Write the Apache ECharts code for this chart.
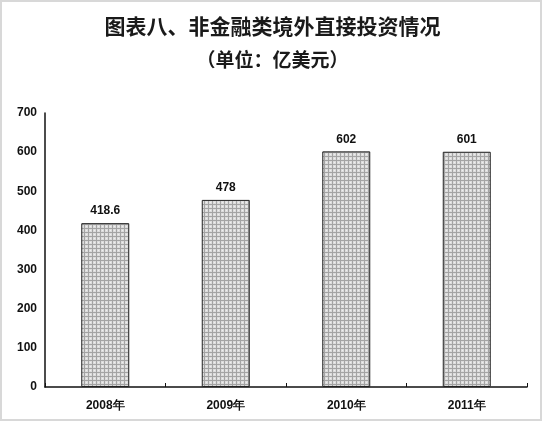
<!DOCTYPE html>
<html>
<head>
<meta charset="utf-8">
<script src="https://cdn.jsdelivr.net/npm/echarts@6/dist/echarts.min.js"></script>
<style>
  html, body { margin: 0; padding: 0; background: #ffffff; }
  #chart { width: 545px; height: 426px; }
</style>
</head>
<body>
<div id="chart"></div>
<script>
// Non-financial outward direct investment, unit: 100 million USD
const titleText = '图表八、非金融类境外直接投资情况';
const subtitleText = '（单位：亿美元）';
const categories = ['2008年', '2009年', '2010年', '2011年'];
const investment = [418.6, 478, 602, 601];
const yTicks = [0, 100, 200, 300, 400, 500, 600, 700];

// Cross-hatched grey fill for the bars
function hatchPattern() {
  const c = document.createElement('canvas');
  c.width = 4; c.height = 4;
  const g = c.getContext('2d');
  g.fillStyle = '#dcdcdc';
  g.fillRect(0, 0, 4, 4);
  g.fillStyle = '#a4a4a4';
  g.fillRect(0, 0, 4, 1);
  g.fillRect(0, 0, 1, 4);
  g.fillStyle = '#efefef';
  g.fillRect(2, 2, 1, 1);
  return c;
}

const chart = echarts.init(document.getElementById('chart'), null, { renderer: 'canvas' });
const labelFont = { fontFamily: 'Liberation Sans, Arial, sans-serif', fontWeight: 'bold', fontSize: 12, color: '#111' };

chart.setOption({
  backgroundColor: '#ffffff',
  animation: false,
  title: [
    { text: titleText, left: 'center', top: 11,
      textStyle: { fontFamily: 'Noto Sans CJK SC', fontWeight: 'bold', fontSize: 21, color: '#1a1a1a' } },
    { text: subtitleText, left: 'center', top: 45,
      textStyle: { fontFamily: 'Noto Sans CJK SC', fontWeight: 'bold', fontSize: 19, color: '#1a1a1a' } }
  ],
  graphic: [
    { type: 'rect', shape: { x: 1, y: 1, width: 540, height: 419 },
      style: { fill: 'none', stroke: '#d8d8d8', lineWidth: 2 }, silent: true }
  ],
  grid: { left: 45, right: 18, top: 113, bottom: 39 },
  xAxis: {
    type: 'category',
    data: categories,
    axisLine: { lineStyle: { color: '#111', width: 1.5 } },
    axisTick: { show: true, inside: true, length: 4, lineStyle: { color: '#111' } },
    axisLabel: Object.assign({ margin: 13 }, labelFont)
  },
  yAxis: {
    type: 'value',
    min: yTicks[0],
    max: yTicks[yTicks.length - 1],
    interval: 100,
    axisLine: { show: true, lineStyle: { color: '#111', width: 1.5 } },
    axisTick: { show: false },
    splitLine: { show: false },
    axisLabel: Object.assign({ margin: 8 }, labelFont)
  },
  series: [{
    type: 'bar',
    data: investment,
    barWidth: 48,
    itemStyle: {
      color: { image: hatchPattern(), repeat: 'repeat' },
      borderColor: '#222',
      borderWidth: 1
    },
    label: Object.assign({ show: true, position: 'top', distance: 6 }, labelFont)
  }]
});
</script>
</body>
</html>
